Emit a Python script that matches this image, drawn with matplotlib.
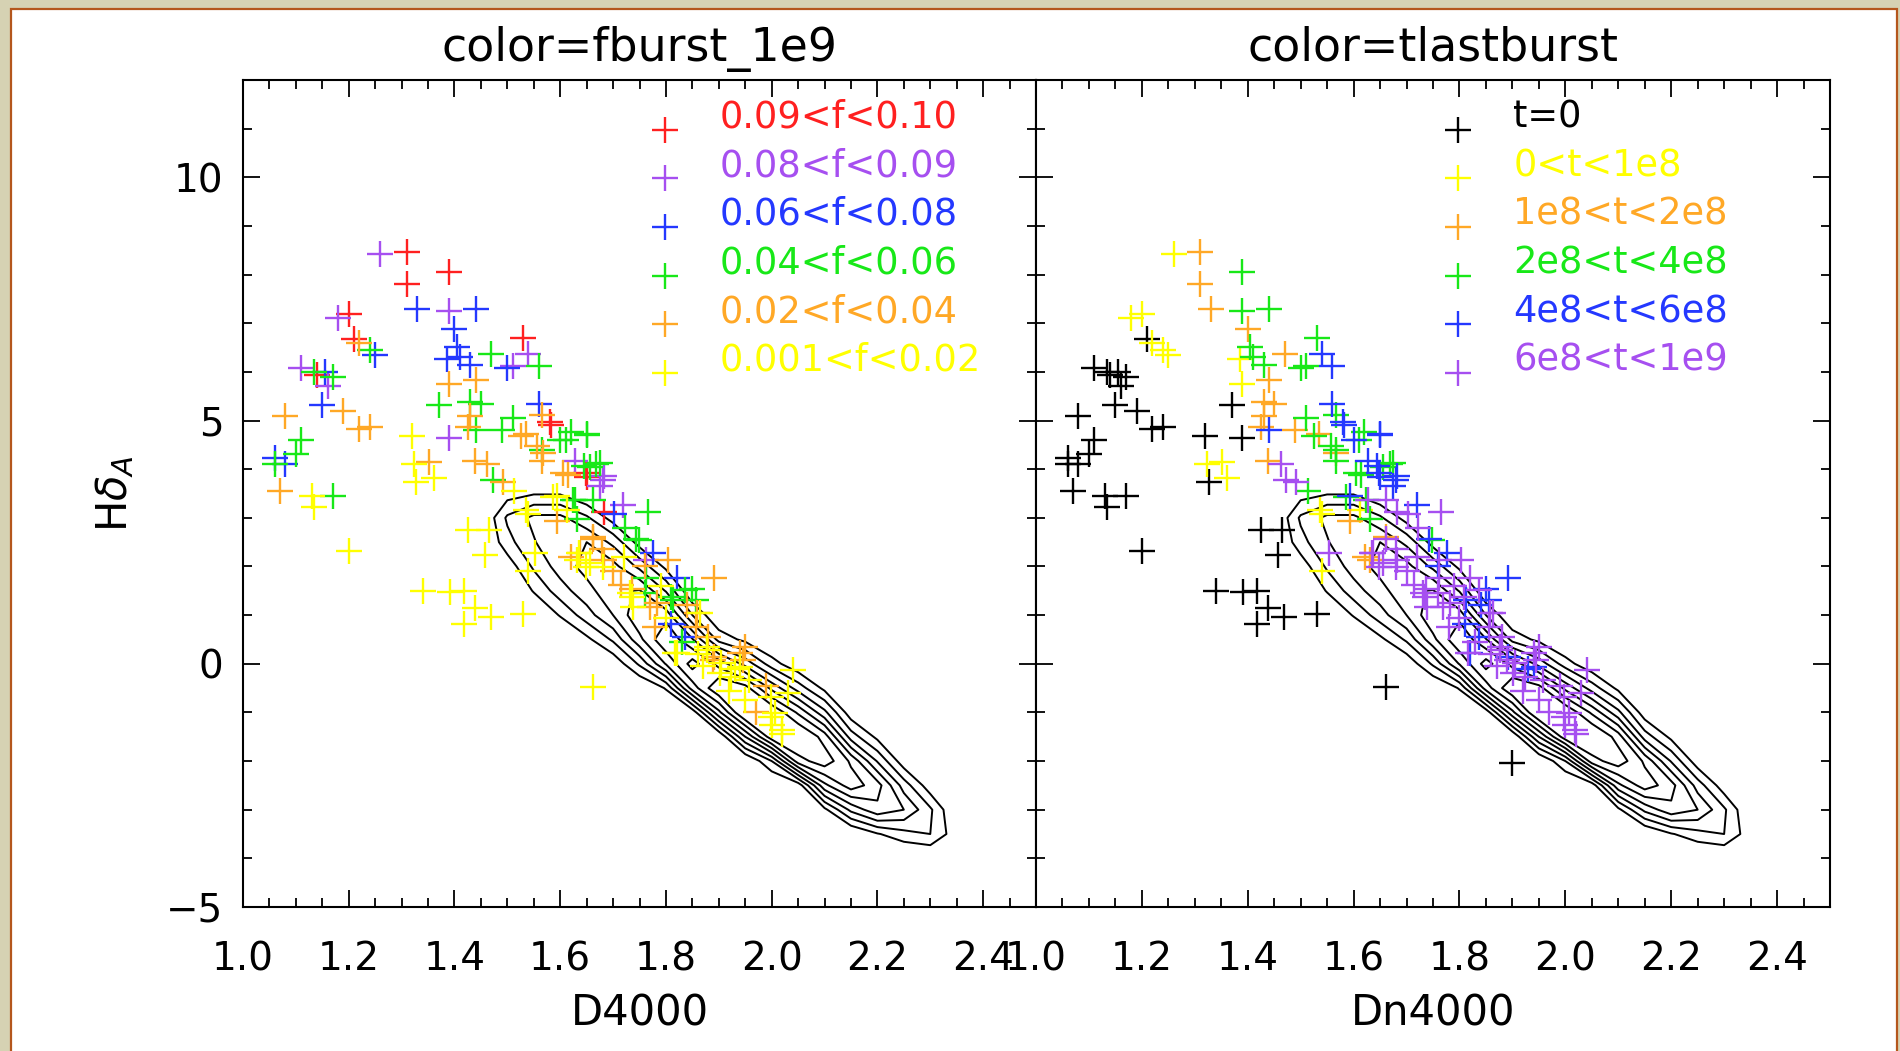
import numpy as np
import matplotlib
matplotlib.use('Agg')
import matplotlib.pyplot as plt
from matplotlib.patches import Rectangle
from matplotlib.ticker import MultipleLocator, FormatStrFormatter

# ---- scatter sample: D4000, HdA, fburst bin, tlastburst bin (-1 = not shown) ----
d4000 = [1.26, 1.31, 1.31, 1.39, 1.33, 1.39, 1.44, 1.20, 1.18, 1.40,
         1.21, 1.22, 1.24, 1.25, 1.405, 1.385, 1.41, 1.43, 1.11, 1.135,
         1.155, 1.14, 1.17, 1.16, 1.15, 1.08, 1.19, 1.22, 1.24, 1.11,
         1.10, 1.06, 1.08, 1.06, 1.07, 1.13, 1.135, 1.17, 1.20, 1.47,
         1.54, 1.53, 1.50, 1.51, 1.56, 1.39, 1.44, 1.37, 1.43, 1.45,
         1.43, 1.425, 1.44, 1.39, 1.32, 1.56, 1.566, 1.58, 1.49, 1.51,
         1.526, 1.557, 1.566, 1.62, 1.65, 1.60, 1.566, 1.323, 1.351, 1.327,
         1.361, 1.438, 1.462, 1.472, 1.492, 1.513, 1.628, 1.645, 1.668, 1.648,
         1.682, 1.614, 1.675, 1.594, 1.628, 1.662, 1.719, 1.682, 1.702, 1.766,
         1.425, 1.465, 1.458, 1.594, 1.540, 1.553, 1.540, 1.722, 1.662, 1.743,
         1.635, 1.621, 1.648, 1.682, 1.776, 1.762, 1.762, 1.715, 1.803, 1.340,
         1.391, 1.418, 1.438, 1.469, 1.418, 1.530, 1.891, 1.820, 1.850, 1.810,
         1.662, 1.736, 1.783, 1.749, 1.837, 1.856, 1.809, 1.769, 1.735, 1.864,
         1.856, 1.837, 1.817, 1.877, 1.891, 1.904, 1.945, 1.924, 1.958, 1.998,
         2.006, 2.019, 1.998, 2.040, 1.586, 1.536, 1.637, 1.656, 1.631, 1.681,
         1.662, 1.612, 1.624, 1.631, 1.732, 1.738, 1.813, 1.858, 1.877, 1.889,
         1.820, 1.940, 1.940, 1.902, 1.681, 1.650, 1.656, 1.675, 1.605, 1.567,
         1.535, 1.611, 1.582, 1.650, 1.900, 1.870, 1.920, 1.950, 1.970, 2.000,
         2.020, 1.990, 1.930, 1.880, 1.860, 1.830, 1.800, 1.780, 1.760, 1.700,
         1.720, 1.680, 1.760, 1.790, 1.840, 1.950, 2.030]
hdelta = [8.43, 8.47, 7.80, 8.06, 7.29, 7.25, 7.29, 7.20, 7.11, 6.89,
          6.67, 6.60, 6.45, 6.34, 6.52, 6.26, 6.30, 6.15, 6.08, 6.00,
          6.00, 5.93, 5.89, 5.71, 5.31, 5.09, 5.20, 4.83, 4.87, 4.61,
          4.32, 4.24, 4.10, 4.10, 3.55, 3.44, 3.22, 3.44, 2.31, 6.37,
          6.37, 6.70, 6.08, 6.12, 6.12, 5.76, 5.83, 5.31, 5.38, 5.34,
          5.09, 4.87, 4.80, 4.65, 4.69, 5.34, 5.12, 4.98, 4.80, 5.05,
          4.69, 4.47, 4.39, 4.76, 4.73, 4.61, 4.17, 4.10, 4.14, 3.74,
          3.81, 4.17, 4.10, 3.77, 3.74, 3.55, 4.17, 4.06, 4.10, 3.92,
          3.85, 3.88, 3.66, 3.44, 3.37, 3.37, 3.26, 3.11, 3.07, 3.11,
          2.75, 2.75, 2.24, 2.93, 3.07, 2.27, 1.91, 2.79, 2.57, 2.57,
          2.27, 2.20, 1.98, 2.13, 2.27, 2.13, 1.76, 1.61, 2.13, 1.50,
          1.47, 1.50, 1.14, 0.96, 0.81, 1.03, 1.76, 1.76, 1.54, 0.81,
          -0.47, 1.54, 1.25, 2.54, 1.52, 1.31, 1.37, 1.17, 1.37, 1.04,
          0.76, 0.55, 0.22, 0.35, 0.14, 0.02, 0.08, -0.27, -0.33, -0.68,
          -1.01, -1.36, -1.09, -0.13, 3.43, 3.16, 2.28, 2.07, 2.13, 1.99,
          2.61, 3.16, 3.37, 2.97, 1.45, 1.17, 1.31, 1.04, 0.28, 0.08,
          0.22, -0.07, 0.22, -0.19, 3.78, 3.84, 4.05, 4.12, 3.92, 4.33,
          4.73, 4.59, 4.90, 4.70, -2.04, -0.05, -0.55, -0.75, -1.00, -1.25,
          -1.45, -0.45, -0.10, 0.55, 0.20, 0.45, 0.95, 0.75, 1.45, 1.90,
          2.20, 2.35, 2.00, 1.60, 1.20, 0.35, -0.60]
f_bin = [1, 0, 0, 0, 2, 1, 2, 0, 1, 2,
         0, 4, 3, 2, 2, 2, 2, 2, 1, 3,
         2, 0, 3, 1, 2, 4, 4, 4, 4, 3,
         3, 2, 2, 3, 4, 5, 5, 3, 5, 3,
         1, 0, 2, 1, 3, 4, 4, 3, 3, 3,
         4, 4, 3, 1, 5, 2, 4, 0, 3, 3,
         4, 4, 3, 3, 3, 3, 4, 5, 4, 5,
         5, 4, 4, 3, 4, 5, 1, 3, 3, 0,
         1, 4, 1, 5, 3, 3, 1, 0, 2, 3,
         5, 5, 5, 4, 5, 5, 5, 3, 4, 3,
         5, 4, 5, 4, 2, 1, 3, 4, 4, 5,
         5, 5, 5, 5, 5, 5, 4, 2, 3, 2,
         5, 4, 4, 3, 3, 3, 3, 4, 5, 5,
         4, 2, 5, 5, 4, 5, 4, 5, 5, 5,
         5, 5, 5, 5, 5, 5, 4, 5, 5, 5,
         4, 5, 3, 3, 5, 5, 3, 4, 5, 4,
         5, 5, 4, 5, 1, 0, 3, 3, 4, 4,
         4, 3, 0, 3, -1, 5, 5, 5, 4, 5,
         5, 4, 5, 4, 5, 3, 5, 4, 3, 4,
         5, 4, 4, 5, 4, 4, 5]
t_bin = [1, 2, 2, 3, 2, 3, 3, 1, 1, 2,
         0, 1, 1, 1, 3, 1, 3, 3, 0, 0,
         0, 0, 0, 0, 0, 0, 0, 0, 0, 0,
         0, 0, 0, 0, 0, 0, 0, 0, 0, 2,
         4, 3, 3, 3, 4, 1, 2, 0, 2, 2,
         2, 2, 4, 0, 0, 4, 3, 4, 2, 3,
         3, 3, 3, 3, 4, 4, 3, 1, 1, 0,
         1, 2, 5, 5, 5, 3, 4, 4, 3, 4,
         4, 3, 4, 4, 5, 5, 4, 5, 5, 5,
         0, 0, 0, 2, 1, 5, 1, 5, 5, 4,
         5, 2, 5, 5, 4, 5, 5, 5, 5, 0,
         0, 0, 0, 0, 0, 0, 4, 5, 4, 4,
         0, 5, 5, 3, 5, 4, 5, 5, 5, 5,
         5, 4, 5, 5, 4, 5, 5, 5, 5, 5,
         5, 5, 5, 5, 3, 1, 5, 5, 2, 5,
         2, 1, 3, 3, 5, 5, 4, 5, 5, 5,
         4, 4, 5, 5, 4, 4, 3, 3, 3, 2,
         2, 3, 4, 4, 0, 5, 5, 5, 5, 5,
         5, 5, 4, 5, 5, 5, 5, 5, 5, 5,
         5, 5, 4, 5, 4, 5, 5]

f_labels = ['0.09<f<0.10', '0.08<f<0.09', '0.06<f<0.08',
            '0.04<f<0.06', '0.02<f<0.04', '0.001<f<0.02']
f_colors = ['#ff2020', '#a64ff0', '#2438ff', '#18e818', '#ffa826', '#ffff00']
t_labels = ['t=0', '0<t<1e8', '1e8<t<2e8', '2e8<t<4e8', '4e8<t<6e8', '6e8<t<1e9']
t_colors = ['#000000', '#ffff00', '#ffa826', '#18e818', '#2438ff', '#a64ff0']

# ---- galaxy density grid behind the contours (columns in D4000, rows in HdA) ----
grid_d4000 = [1.40, 1.45, 1.50, 1.55, 1.60, 1.65, 1.70, 1.75, 1.80, 1.85, 1.90,
              1.95, 2.00, 2.05, 2.10, 2.15, 2.20, 2.25, 2.30, 2.35, 2.40]
grid_hda = [4.0, 3.5, 3.0, 2.5, 2.0, 1.5, 1.0, 0.5, 0.0, -0.5,
            -1.0, -1.5, -2.0, -2.5, -3.0, -3.5, -4.0, -4.5]
density_cols = [
    [0, 0, 0, 0, 0, 0, 0, 0, 0, 0, 0, 0, 0, 0, 0, 0, 0, 0],
    [0, 0.2, 0.3, 0.2, 0, 0, 0, 0, 0, 0, 0, 0, 0, 0, 0, 0, 0, 0],
    [0, 0.7, 1.6, 1.3, 0.6, 0.2, 0, 0, 0, 0, 0, 0, 0, 0, 0, 0, 0, 0],
    [0, 0.9, 2.2, 2.0, 1.6, 1.0, 0.3, 0, 0, 0, 0, 0, 0, 0, 0, 0, 0, 0],
    [0, 0.9, 2.2, 2.6, 2.3, 1.8, 1.0, 0.2, 0, 0, 0, 0, 0, 0, 0, 0, 0, 0],
    [0, 0.4, 1.6, 2.6, 2.8, 2.4, 1.8, 0.8, 0, 0, 0, 0, 0, 0, 0, 0, 0, 0],
    [0, 0, 0.7, 1.9, 2.8, 3.0, 2.6, 1.6, 0.5, 0, 0, 0, 0, 0, 0, 0, 0, 0],
    [0, 0, 0.2, 0.7, 1.9, 3.2, 3.6, 3.0, 1.6, 0.3, 0, 0, 0, 0, 0, 0, 0, 0],
    [0, 0, 0, 0.2, 0.8, 2.0, 3.5, 4.2, 3.2, 1.0, 0.2, 0, 0, 0, 0, 0, 0, 0],
    [0, 0, 0, 0, 0.3, 0.4, 1.5, 3.2, 4.5, 3.4, 0.6, 0, 0, 0, 0, 0, 0, 0],
    [0, 0, 0, 0, 0, 0, 0.4, 1.3, 3.5, 4.8, 3.0, 0.4, 0, 0, 0, 0, 0, 0],
    [0, 0, 0, 0, 0, 0, 0.1, 0.8, 2.4, 4.5, 5.0, 2.6, 0.3, 0, 0, 0, 0, 0],
    [0, 0, 0, 0, 0, 0, 0, 0.3, 1.2, 3.0, 4.8, 4.6, 1.5, 0.2, 0, 0, 0, 0],
    [0, 0, 0, 0, 0, 0, 0, 0, 0.5, 1.8, 3.6, 5.0, 4.0, 0.6, 0, 0, 0, 0],
    [0, 0, 0, 0, 0, 0, 0, 0, 0, 0.8, 2.2, 4.0, 4.6, 3.0, 0.8, 0, 0, 0],
    [0, 0, 0, 0, 0, 0, 0, 0, 0, 0, 0.6, 1.8, 3.6, 4.0, 2.2, 0.3, 0, 0],
    [0, 0, 0, 0, 0, 0, 0, 0, 0, 0, 0, 0.8, 2.0, 3.4, 3.0, 0.9, 0, 0],
    [0, 0, 0, 0, 0, 0, 0, 0, 0, 0, 0, 0, 0.6, 1.8, 2.6, 1.3, 0.2, 0],
    [0, 0, 0, 0, 0, 0, 0, 0, 0, 0, 0, 0, 0, 0.6, 1.6, 1.5, 0.3, 0],
    [0, 0, 0, 0, 0, 0, 0, 0, 0, 0, 0, 0, 0, 0, 0.3, 0.6, 0.5, 0],
    [0, 0, 0, 0, 0, 0, 0, 0, 0, 0, 0, 0, 0, 0, 0, 0, 0, 0],
]
contour_levels = [0.95, 1.5, 2.05, 2.6, 3.15, 3.7, 4.25]

plt.rcParams['font.family'] = ['DejaVu Sans']

W, H = 1900, 1051
fig = plt.figure(figsize=(W / 100, H / 100), dpi=100)
fig.patch.set_facecolor('#d6d2b3')
# white card with the brown rule round it
fig.add_artist(Rectangle((11 / W, -0.02), (1897 - 11) / W, 1.02 - 9 / H,
                         transform=fig.transFigure, facecolor='white',
                         edgecolor='#b4561c', lw=1.6, zorder=0))

bottom = 1 - 907 / H
height = 827 / H
ax1 = fig.add_axes([243 / W, bottom, 793 / W, height])
ax2 = fig.add_axes([1036 / W, bottom, 794 / W, height])

x = np.array(d4000)
y = np.array(hdelta)
fb = np.array(f_bin)
tb = np.array(t_bin)
Z = np.flipud(np.array(density_cols).T)
gy = np.array(grid_hda)[::-1]
gx = np.array(grid_d4000)


def style_axes(ax, show_ylabels):
    ax.set_xlim(1.0, 2.5)
    ax.set_ylim(-5, 12)
    ax.xaxis.set_major_locator(MultipleLocator(0.2))
    ax.xaxis.set_minor_locator(MultipleLocator(0.05))
    ax.xaxis.set_major_formatter(FormatStrFormatter('%.1f'))
    ax.yaxis.set_major_locator(MultipleLocator(5))
    ax.yaxis.set_minor_locator(MultipleLocator(1))
    ax.tick_params(which='both', direction='in', top=True, right=True,
                   width=1.3, color='black', labelsize=28)
    ax.tick_params(which='major', length=12)
    ax.tick_params(which='minor', length=6.5)
    ax.tick_params(axis='x', pad=24)
    ax.tick_params(axis='y', pad=14, labelleft=show_ylabels)
    for s in ax.spines.values():
        s.set_linewidth(1.5)


def draw_panel(ax, bins, colors, labels, title, xlabel):
    ax.contour(gx, gy, Z, levels=contour_levels, colors='black',
               linewidths=1.4, zorder=1)
    for k in range(len(colors)):
        m = bins == k
        ax.plot(x[m], y[m], linestyle='none', marker='+', markersize=19,
                markeredgewidth=1.7, color=colors[k], zorder=2 + k)
    # legend rows as in the IDL plot
    for k, (lab, c) in enumerate(zip(labels, colors)):
        yy = 0.955 - k * 0.0588
        ax.plot([0.532], [yy - 0.015], transform=ax.transAxes, marker='+',
                markersize=19, markeredgewidth=1.7, color=c, clip_on=False)
        ax.text(0.601, yy, lab, transform=ax.transAxes, color=c,
                fontsize=26.5, ha='left', va='center')
    ax.set_title(title, fontsize=33, pad=14)
    ax.set_xlabel(xlabel, fontsize=30, labelpad=10)


draw_panel(ax1, fb, f_colors, f_labels, 'color=fburst_1e9', 'D4000')
draw_panel(ax2, tb, t_colors, t_labels, 'color=tlastburst', 'Dn4000')
style_axes(ax1, True)
style_axes(ax2, False)
ax1.set_ylabel(r'H$\delta_A$', fontsize=30, labelpad=22)

fig.savefig('out.png', dpi=100, facecolor=fig.get_facecolor())
